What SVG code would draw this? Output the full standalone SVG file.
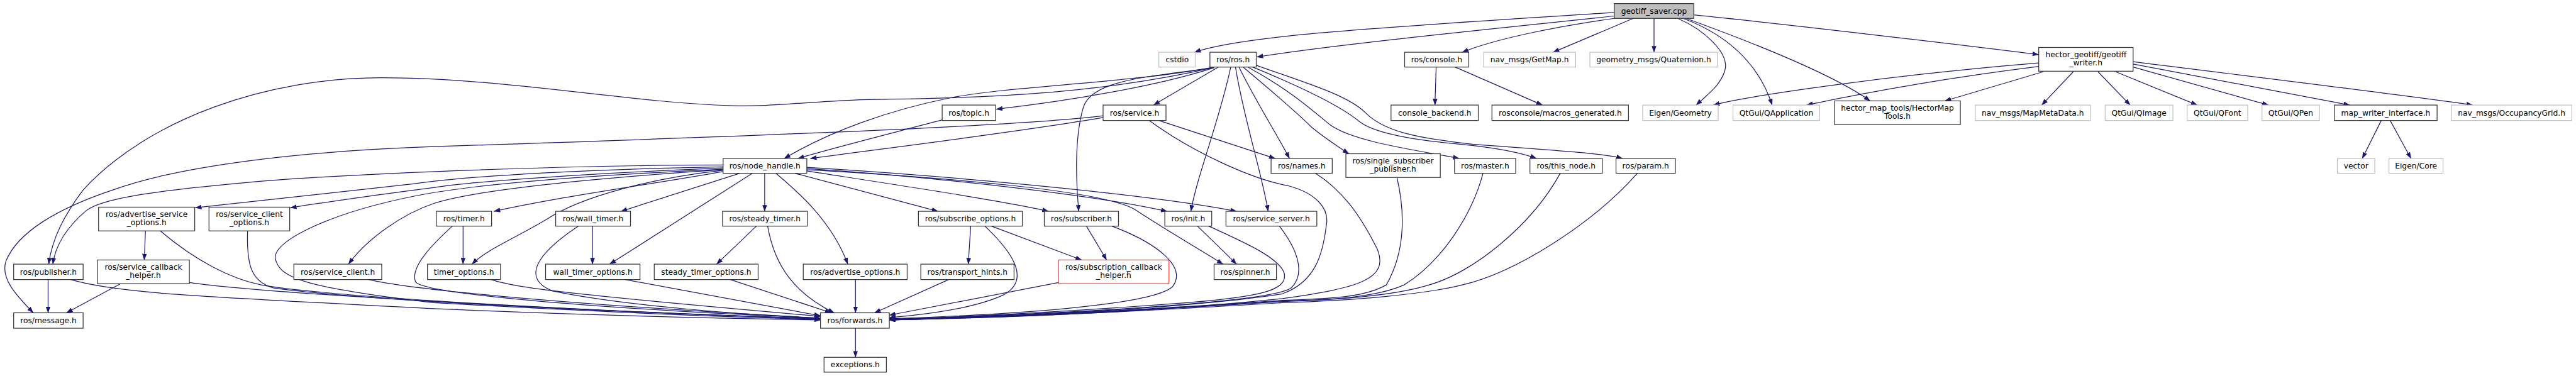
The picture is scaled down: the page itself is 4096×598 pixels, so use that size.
<svg xmlns="http://www.w3.org/2000/svg" width="4096" height="598" viewBox="0 0 4096 598">
<style>
.n rect{fill:#fff;stroke:#333;stroke-width:1.3}
.g rect{fill:#fff;stroke:#bfbfbf;stroke-width:1.3}
.r rect{fill:#fff;stroke:#f33;stroke-width:1.3}
.s rect{fill:#bfbfbf;stroke:#333;stroke-width:1.3}
text{font-family:"DejaVu Sans","Liberation Sans",sans-serif;font-size:13px;fill:#000;text-anchor:middle}
#edges path{fill:none;stroke:#191970;stroke-width:1.3}
</style>
<defs>
<marker id="a" markerUnits="userSpaceOnUse" markerWidth="11" markerHeight="8" refX="10.5" refY="4" orient="auto" viewBox="0 0 11 8">
<path d="M0,0 L11,4 L0,8 z" fill="#191970"/>
</marker>
</defs>
<rect x="0" y="0" width="4096" height="598" fill="#fff"/>
<g transform="scale(0.944)">
<g id="edges" marker-end="url(#a)">
<path d="M2719,21 C2350,45 2100,58 2012,88"/>
<path d="M2719,27 C2500,50 2250,75 2117,96"/>
<path d="M2719,31 C2620,45 2520,65 2463,88"/>
<path d="M2751,31 L2616,88"/>
<path d="M2786,31 L2786,88"/>
<path d="M2826,31 C2870,50 2915,90 2905,120 C2897,145 2875,160 2857,177"/>
<path d="M2835,31 C2900,55 2960,100 2985,177"/>
<path d="M2840,31 C2920,60 3080,120 3150,170"/>
<path d="M2853,25 C3000,40 3300,75 3434,92"/>
<path d="M3434,106 C3200,125 2950,160 2886,177"/>
<path d="M3434,112 C3250,135 3100,165 3043,177"/>
<path d="M3441,121 L3276,170"/>
<path d="M3492,121 L3439,177"/>
<path d="M3534,121 L3588,177"/>
<path d="M3564,121 L3701,177"/>
<path d="M3593,113 L3821,177"/>
<path d="M3593,108 L3958,177"/>
<path d="M3593,104 C3800,130 4050,160 4165,177"/>
<path d="M4011,203 L3979,267"/>
<path d="M4026,203 L4061,267"/>
<path d="M2419,113 L2417,177"/>
<path d="M2451,113 L2598,177"/>
<path d="M2052,113 L1943,177"/>
<path d="M2045,114 C1950,145 1800,170 1678,184"/>
<path d="M2040,114 C1900,140 1700,145 1600,165 C1500,185 1400,220 1321,267"/>
<path d="M2043,114 C1800,170 1550,165 1450,168 C1350,172 1300,180 1232,178 C1050,172 850,131 642,131 C450,131 250,200 140,320 C110,360 88,400 82,445"/>
<path d="M1858,195 C1700,215 1100,235 730,247 C500,255 300,280 190,320 C100,350 30,390 10,440 C0,470 30,500 56,527"/>
<path d="M1858,198 C1700,225 1450,255 1365,267"/>
<path d="M1952,203 L2148,267"/>
<path d="M1936,203 C2000,250 2100,300 2170,313 C2215,325 2240,350 2234,380 C2228,430 2215,475 2160,495 C2000,520 1700,533 1498,538"/>
<path d="M1587,202 C1500,225 1400,250 1344,267"/>
<path d="M2045,114 C1930,130 1840,135 1825,180 C1810,230 1812,300 1817,356"/>
<path d="M2073,113 C2055,200 2015,300 2006,356"/>
<path d="M2081,113 C2095,200 2125,290 2136,356"/>
<path d="M2087,113 C2115,170 2150,225 2172,267"/>
<path d="M2094,113 C2150,160 2190,195 2210,215 C2235,235 2255,248 2272,259"/>
<path d="M2102,113 C2170,150 2210,185 2240,210 C2280,240 2400,255 2458,267"/>
<path d="M2110,113 C2200,150 2260,180 2290,205 C2320,228 2400,238 2480,245 C2540,252 2570,260 2588,267"/>
<path d="M2116,110 C2200,140 2270,160 2300,190 C2330,220 2380,232 2480,243 C2600,252 2700,258 2733,267"/>
<path d="M2216,292 C2260,320 2290,360 2320,420 C2340,470 2290,485 2160,503 C1950,525 1700,535 1498,539"/>
<path d="M2353,299 C2365,350 2370,420 2335,480 C2300,500 2250,503 2160,506 C1950,520 1700,534 1498,539"/>
<path d="M2498,292 C2480,360 2430,440 2365,480 C2320,500 2250,505 2160,507 C1950,521 1700,534 1498,539"/>
<path d="M2628,292 C2580,380 2480,460 2407,480 C2350,498 2260,505 2160,508 C1950,522 1700,534 1498,539"/>
<path d="M2758,292 C2680,380 2550,460 2463,480 C2400,496 2280,506 2160,510 C1950,523 1700,535 1498,539"/>
<path d="M2155,381 C2185,420 2200,460 2175,485 C2150,505 1900,525 1498,538"/>
<path d="M2036,381 C2100,410 2155,435 2163,460 C2170,490 2120,500 2000,510 C1800,525 1650,533 1498,538"/>
<path d="M1288,292 L1288,356"/>
<path d="M1267,292 L1027,445"/>
<path d="M1246,292 L1046,356"/>
<path d="M1307,292 C1340,320 1400,370 1428,445"/>
<path d="M1339,292 L1580,356"/>
<path d="M1359,288 C1500,310 1700,340 1766,356"/>
<path d="M1359,284 C1600,300 1850,330 1966,356"/>
<path d="M1359,282 C1650,300 1950,330 2083,356"/>
<path d="M1359,286 C1600,300 1850,320 1910,352 C1960,385 2020,420 2060,445"/>
<path d="M1218,289 C1100,310 950,330 832,356"/>
<path d="M1218,287 C1100,300 980,330 920,370 C870,400 820,420 795,445"/>
<path d="M1218,286 C1000,300 800,320 730,343 C680,360 620,400 587,445"/>
<path d="M1218,283 C1000,292 800,305 730,316 C620,330 540,342 489,350"/>
<path d="M1218,281 C1000,285 800,295 694,310 C550,325 420,340 329,350"/>
<path d="M1218,278 C1000,278 600,290 400,309 C250,323 170,335 145,355 C110,385 93,415 89,445"/>
<path d="M1218,285 C1000,295 800,310 700,330 C550,360 450,410 465,440 C475,470 520,485 730,510 C1000,525 1250,535 1382,538"/>
<path d="M270,389 C330,440 390,470 440,480 C550,500 1000,525 1382,537"/>
<path d="M417,389 C415,450 425,475 460,485 C600,505 1000,525 1382,537"/>
<path d="M319,476 C450,495 1000,525 1382,537"/>
<path d="M119,471 C200,495 350,500 730,520 C1000,532 1250,537 1382,539"/>
<path d="M621,471 C680,485 900,510 1382,536"/>
<path d="M762,381 C730,410 690,450 700,475 C715,495 1000,520 1382,536"/>
<path d="M827,471 C870,485 950,495 1382,533"/>
<path d="M974,381 C900,430 880,470 930,490 C1050,515 1250,530 1382,536"/>
<path d="M1053,471 L1382,532"/>
<path d="M1230,471 L1400,527"/>
<path d="M1293,381 C1305,450 1340,495 1405,527"/>
<path d="M1441,471 L1441,527"/>
<path d="M1441,553 L1441,602"/>
<path d="M780,381 L780,445"/>
<path d="M998,381 L998,445"/>
<path d="M1274,381 L1207,445"/>
<path d="M245,389 L243,438"/>
<path d="M203,478 L112,527"/>
<path d="M81,471 L81,527"/>
<path d="M1635,381 L1631,445"/>
<path d="M1670,381 L1822,438"/>
<path d="M1659,381 C1700,420 1740,470 1690,497 C1640,520 1560,530 1498,535"/>
<path d="M1598,471 L1473,527"/>
<path d="M1830,381 L1864,438"/>
<path d="M1873,381 C1950,410 2000,450 1975,483 C1940,515 1700,530 1498,537"/>
<path d="M1783,476 L1498,531"/>
<path d="M2017,381 L2083,445"/>
</g>
<g id="geotiff_saver" class="s"><rect x="2719" y="6" width="134" height="25"/><text x="2786" y="23">geotiff_saver.cpp</text></g>
<g id="cstdio" class="g"><rect x="1952" y="88" width="62" height="25"/><text x="1983" y="105">cstdio</text></g>
<g id="ros_ros" class="n"><rect x="2038" y="88" width="78" height="25"/><text x="2077" y="105">ros/ros.h</text></g>
<g id="ros_console" class="n"><rect x="2366" y="88" width="108" height="25"/><text x="2420" y="105">ros/console.h</text></g>
<g id="getmap" class="g"><rect x="2499" y="88" width="155" height="25"/><text x="2576.5" y="105">nav_msgs/GetMap.h</text></g>
<g id="quaternion" class="g"><rect x="2678" y="88" width="215" height="25"/><text x="2785.5" y="105">geometry_msgs/Quaternion.h</text></g>
<g id="geotiff_writer" class="n"><rect x="3434" y="80" width="159" height="40"/><text x="3513.5" y="96">hector_geotiff/geotiff</text><text x="3513.5" y="110">_writer.h</text></g>
<g id="ros_topic" class="n"><rect x="1587" y="177" width="90" height="26"/><text x="1632" y="194.5">ros/topic.h</text></g>
<g id="ros_service" class="n"><rect x="1858" y="177" width="106" height="26"/><text x="1911" y="194.5">ros/service.h</text></g>
<g id="console_backend" class="n"><rect x="2343" y="177" width="147" height="26"/><text x="2416.5" y="194.5">console_backend.h</text></g>
<g id="macros_generated" class="n"><rect x="2513" y="177" width="230" height="26"/><text x="2628" y="194.5">rosconsole/macros_generated.h</text></g>
<g id="eigen_geometry" class="g"><rect x="2767" y="177" width="127" height="26"/><text x="2830.5" y="194.5">Eigen/Geometry</text></g>
<g id="qapplication" class="g"><rect x="2919" y="177" width="146" height="26"/><text x="2992" y="194.5">QtGui/QApplication</text></g>
<g id="hectormaptools" class="n"><rect x="3090" y="170" width="212" height="40"/><text x="3196" y="186">hector_map_tools/HectorMap</text><text x="3196" y="200">Tools.h</text></g>
<g id="mapmetadata" class="g"><rect x="3327" y="177" width="194" height="26"/><text x="3424" y="194.5">nav_msgs/MapMetaData.h</text></g>
<g id="qimage" class="g"><rect x="3546" y="177" width="114" height="26"/><text x="3603" y="194.5">QtGui/QImage</text></g>
<g id="qfont" class="g"><rect x="3684" y="177" width="102" height="26"/><text x="3735" y="194.5">QtGui/QFont</text></g>
<g id="qpen" class="g"><rect x="3810" y="177" width="97" height="26"/><text x="3858.5" y="194.5">QtGui/QPen</text></g>
<g id="map_writer_interface" class="n"><rect x="3932" y="177" width="173" height="26"/><text x="4018.5" y="194.5">map_writer_interface.h</text></g>
<g id="occupancygrid" class="g"><rect x="4129" y="177" width="203" height="26"/><text x="4230.5" y="194.5">nav_msgs/OccupancyGrid.h</text></g>
<g id="node_handle" class="n"><rect x="1218" y="267" width="141" height="25"/><text x="1288.5" y="284">ros/node_handle.h</text></g>
<g id="names" class="n"><rect x="2141" y="267" width="103" height="25"/><text x="2192.5" y="284">ros/names.h</text></g>
<g id="single_subscriber_publisher" class="n"><rect x="2267" y="259" width="159" height="40"/><text x="2346.5" y="275">ros/single_subscriber</text><text x="2346.5" y="289">_publisher.h</text></g>
<g id="master" class="n"><rect x="2450" y="267" width="103" height="25"/><text x="2501.5" y="284">ros/master.h</text></g>
<g id="this_node" class="n"><rect x="2577" y="267" width="122" height="25"/><text x="2638" y="284">ros/this_node.h</text></g>
<g id="param" class="n"><rect x="2722" y="267" width="100" height="25"/><text x="2772" y="284">ros/param.h</text></g>
<g id="vector" class="g"><rect x="3937" y="267" width="63" height="25"/><text x="3968.5" y="284">vector</text></g>
<g id="eigen_core" class="g"><rect x="4024" y="267" width="91" height="25"/><text x="4069.5" y="284">Eigen/Core</text></g>
<g id="advertise_service_options" class="n"><rect x="166" y="349" width="162" height="40"/><text x="247" y="365">ros/advertise_service</text><text x="247" y="379">_options.h</text></g>
<g id="service_client_options" class="n"><rect x="352" y="349" width="136" height="40"/><text x="420" y="365">ros/service_client</text><text x="420" y="379">_options.h</text></g>
<g id="timer" class="n"><rect x="735" y="356" width="93" height="25"/><text x="781.5" y="373">ros/timer.h</text></g>
<g id="wall_timer" class="n"><rect x="936" y="356" width="126" height="25"/><text x="999" y="373">ros/wall_timer.h</text></g>
<g id="steady_timer" class="n"><rect x="1217" y="356" width="143" height="25"/><text x="1288.5" y="373">ros/steady_timer.h</text></g>
<g id="subscribe_options" class="n"><rect x="1547" y="356" width="175" height="25"/><text x="1634.5" y="373">ros/subscribe_options.h</text></g>
<g id="subscriber" class="n"><rect x="1759" y="356" width="125" height="25"/><text x="1821.5" y="373">ros/subscriber.h</text></g>
<g id="init" class="n"><rect x="1962" y="356" width="79" height="25"/><text x="2001.5" y="373">ros/init.h</text></g>
<g id="service_server" class="n"><rect x="2065" y="356" width="153" height="25"/><text x="2141.5" y="373">ros/service_server.h</text></g>
<g id="publisher" class="n"><rect x="23" y="445" width="117" height="26"/><text x="81.5" y="462.5">ros/publisher.h</text></g>
<g id="service_callback_helper" class="n"><rect x="164" y="438" width="155" height="40"/><text x="241.5" y="454">ros/service_callback</text><text x="241.5" y="468">_helper.h</text></g>
<g id="service_client" class="n"><rect x="495" y="445" width="148" height="26"/><text x="569" y="462.5">ros/service_client.h</text></g>
<g id="timer_options" class="n"><rect x="720" y="445" width="123" height="26"/><text x="781.5" y="462.5">timer_options.h</text></g>
<g id="wall_timer_options" class="n"><rect x="919" y="445" width="159" height="26"/><text x="998.5" y="462.5">wall_timer_options.h</text></g>
<g id="steady_timer_options" class="n"><rect x="1102" y="445" width="175" height="26"/><text x="1189.5" y="462.5">steady_timer_options.h</text></g>
<g id="advertise_options" class="n"><rect x="1353" y="445" width="175" height="26"/><text x="1440.5" y="462.5">ros/advertise_options.h</text></g>
<g id="transport_hints" class="n"><rect x="1551" y="445" width="157" height="26"/><text x="1629.5" y="462.5">ros/transport_hints.h</text></g>
<g id="subscription_callback_helper" class="r"><rect x="1783" y="438" width="186" height="40"/><text x="1876" y="454">ros/subscription_callback</text><text x="1876" y="468">_helper.h</text></g>
<g id="spinner" class="n"><rect x="2045" y="445" width="105" height="26"/><text x="2097.5" y="462.5">ros/spinner.h</text></g>
<g id="message" class="n"><rect x="23" y="527" width="117" height="26"/><text x="81.5" y="544.5">ros/message.h</text></g>
<g id="forwards" class="n"><rect x="1382" y="527" width="116" height="26"/><text x="1440" y="544.5">ros/forwards.h</text></g>
<g id="exceptions" class="n"><rect x="1388" y="602" width="105" height="25"/><text x="1440.5" y="619">exceptions.h</text></g>
</g>
</svg>
